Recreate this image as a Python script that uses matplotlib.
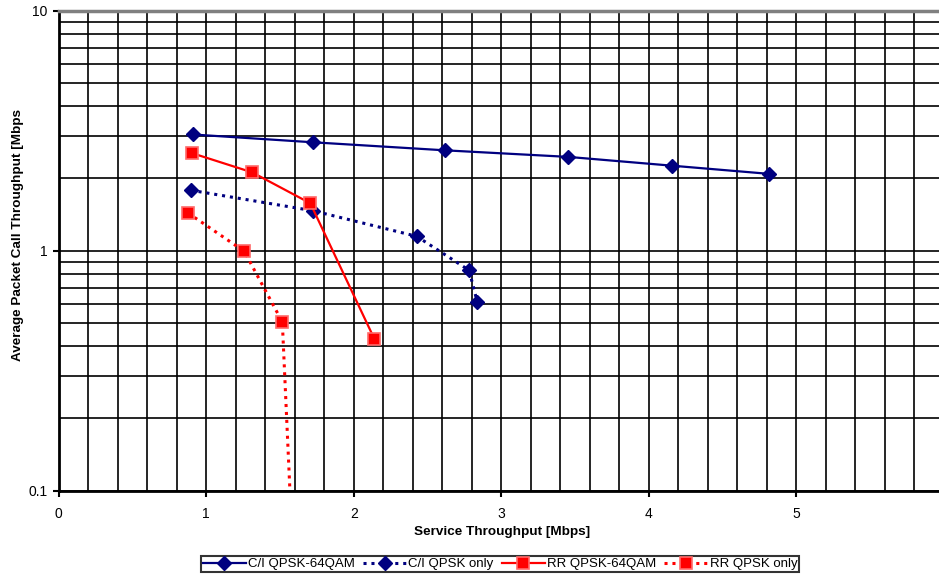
import matplotlib
matplotlib.use("Agg")
import matplotlib.pyplot as plt
from matplotlib.ticker import LogLocator, MultipleLocator, FixedLocator, FuncFormatter, NullFormatter

plt.rcParams['font.family'] = ['Liberation Sans', 'DejaVu Sans']

# ---- data ----
ci_64_x = [0.908, 1.722, 2.617, 3.453, 4.160, 4.816]
ci_64_y = [3.05, 2.83, 2.62, 2.46, 2.26, 2.09]

ci_qpsk_x = [0.895, 1.722, 2.427, 2.782, 2.838]
ci_qpsk_y = [1.786, 1.468, 1.148, 0.829, 0.611]

rr_64_x = [0.906, 1.312, 1.706, 2.140]
rr_64_y = [2.547, 2.12, 1.576, 0.429]

rr_qpsk_x = [0.877, 1.258, 1.516, 1.641]
rr_qpsk_y = [1.436, 0.994, 0.505, 0.01]

labels = ["C/I QPSK-64QAM", "C/I QPSK only", "RR QPSK-64QAM", "RR QPSK only"]
x_ticks = [0, 1, 2, 3, 4, 5]
y_ticks = [0.1, 1, 10]

navy = '#000080'
red = '#FF0000'

fig = plt.figure(figsize=(9.39, 5.77), dpi=100)
ax = fig.add_axes([58.7/939, 86.3/577, 885/939, 480/577])
ax.set_yscale('log')
ax.set_xlim(0, 6)
ax.set_ylim(0.1, 10)

dot = (0, (1, 1.6))
h1, = ax.plot(ci_64_x, ci_64_y, color=navy, lw=1.6, marker='D', ms=6.8,
              mfc=navy, mec=navy, label=labels[0], zorder=5)
h2, = ax.plot(ci_qpsk_x, ci_qpsk_y, color=navy, lw=2.2, ls=dot, marker='D', ms=6.8,
              mfc=navy, mec=navy, label=labels[1], zorder=5)
h3, = ax.plot(rr_64_x, rr_64_y, color=red, lw=1.6, marker='s', ms=8,
              mfc=red, mec='#FF6A6A', mew=1.2, label=labels[2], zorder=6)
h4, = ax.plot(rr_qpsk_x, rr_qpsk_y, color=red, lw=2.2, ls=dot, marker='s', ms=8,
              mfc=red, mec='#FF6A6A', mew=1.2, label=labels[3], zorder=6)

# grid
ax.yaxis.set_major_locator(FixedLocator(y_ticks))
ax.yaxis.set_minor_locator(LogLocator(base=10, subs=range(2, 10)))
ax.yaxis.set_major_formatter(FuncFormatter(lambda v, p: '%g' % v))
ax.yaxis.set_minor_formatter(NullFormatter())
ax.xaxis.set_major_locator(FixedLocator(x_ticks))
ax.xaxis.set_minor_locator(MultipleLocator(0.2))
ax.grid(which='both', color='black', lw=1.2, zorder=1)
ax.set_axisbelow(True)

ax.tick_params(which='minor', length=0)
ax.tick_params(which='major', length=4, width=1.5, direction='out', labelsize=10, colors='black')
ax.tick_params(axis='x', pad=8)
ax.tick_params(axis='y', pad=4)

for s in ['left', 'bottom']:
    ax.spines[s].set_linewidth(2)
    ax.spines[s].set_color('black')
ax.spines['top'].set_color('#808080')
ax.spines['top'].set_linewidth(2.5)
ax.spines['right'].set_visible(False)

ax.set_xlabel("Service Throughput [Mbps]", fontsize=9.7, fontweight='bold')
ax.set_ylabel("Average Packet Call Throughput [Mbps", fontsize=9.7, fontweight='bold')
ax.xaxis.set_label_coords((502 - 58.7) / 885, -(532 - 490.7) / 480)
ax.yaxis.set_label_coords(-(58.7 - 18) / 885, (490.7 - 235) / 480)
ax.xaxis.label.set_va('center')
ax.yaxis.label.set_va('center')

leg = fig.legend(handles=[h1, h2, h3, h4], loc='center', bbox_to_anchor=(500/939, 13/577),
                 ncol=4, frameon=True, fancybox=False, fontsize=9.5, handlelength=3.3,
                 handletextpad=0.15, columnspacing=0.6, borderpad=0.15, borderaxespad=0)
leg.get_frame().set_edgecolor('black')
leg.get_frame().set_linewidth(1.5)

fig.savefig('out.png', dpi=100)
